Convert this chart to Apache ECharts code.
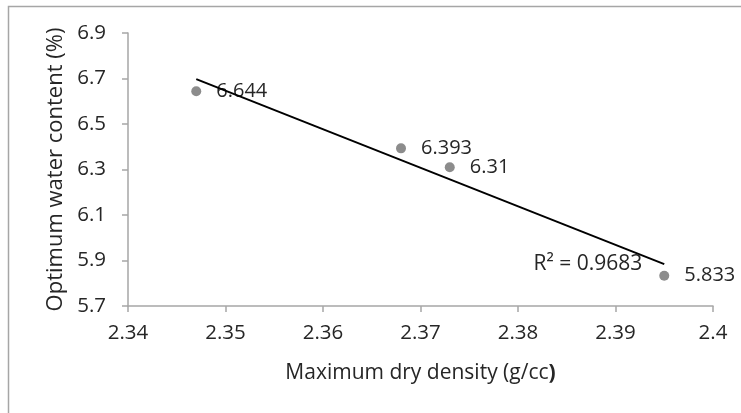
<!DOCTYPE html>
<html><head><meta charset="utf-8">
<script src="https://cdn.jsdelivr.net/npm/echarts@6/dist/echarts.min.js"></script>
<style>html,body{margin:0;padding:0;background:#fff}#c{width:741px;height:413px}</style>
</head><body><div id="c"></div>
<script>
const density = [2.347, 2.368, 2.373, 2.395];
const water = [6.644, 6.393, 6.31, 5.833];
const pointLabels = ['6.644', '6.393', '6.31', '5.833'];
const r2Text = 'R\u00b2 = 0.9683';
const xTicks = [2.34, 2.35, 2.36, 2.37, 2.38, 2.39, 2.4];
const yTicks = [5.7, 5.9, 6.1, 6.3, 6.5, 6.7, 6.9];

// least-squares trendline
const n = density.length;
const mx = density.reduce((a,b)=>a+b,0)/n, my = water.reduce((a,b)=>a+b,0)/n;
let sxy=0,sxx=0;
for(let i=0;i<n;i++){sxy+=(density[i]-mx)*(water[i]-my);sxx+=(density[i]-mx)**2;}
const slope=sxy/sxx, icpt=my-slope*mx;
const x0=Math.min(...density), x1=Math.max(...density);
const trend=[[x0,icpt+slope*x0],[x1,icpt+slope*x1]];

const font='"Open Sans", sans-serif';
const txt='#262626';
const chart=echarts.init(document.getElementById('c'),null,{renderer:'canvas'});
chart.setOption({
  animation:false,
  backgroundColor:'#fff',
  graphic:[{type:'rect',shape:{x:8.5,y:6.5,width:760,height:420},style:{fill:'none',stroke:'#a6a6a6',lineWidth:1.5},z:-1}],
  grid:{left:128,right:28,top:33,bottom:107},
  xAxis:{type:'value',min:xTicks[0],max:xTicks[xTicks.length-1],interval:0.01,
    name:'Maximum dry density (g/cc{b|)}',nameLocation:'middle',nameGap:57,
    nameTextStyle:{fontFamily:font,fontSize:21,color:txt,rich:{b:{fontFamily:font,fontSize:21,color:txt,fontWeight:'bold'}}},
    axisLine:{show:true,lineStyle:{color:'#a6a6a6',width:1.5}},
    axisTick:{show:true,length:6,lineStyle:{color:'#a6a6a6',width:1.5}},
    splitLine:{show:false},
    axisLabel:{fontFamily:font,fontSize:20.5,color:txt,margin:17,formatter:v=>String(+v.toFixed(2))}},
  yAxis:{type:'value',min:yTicks[0],max:yTicks[yTicks.length-1],interval:0.2,
    name:'Optimum water content (%)',nameLocation:'middle',nameGap:59,
    nameTextStyle:{fontFamily:font,fontSize:22,color:txt},
    axisLine:{show:true,lineStyle:{color:'#a6a6a6',width:1.5}},
    axisTick:{show:true,length:6,lineStyle:{color:'#a6a6a6',width:1.5}},
    splitLine:{show:false},
    axisLabel:{fontFamily:font,fontSize:20.5,color:txt,margin:22,formatter:v=>(+v).toFixed(1)}},
  series:[
    {type:'line',symbol:'none',lineStyle:{color:'#000',width:2},z:3,
     data:trend,
     markPoint:{symbol:'circle',symbolSize:0,silent:true,
       data:[{coord:trend[1],label:{show:true,position:'left',distance:22,
         fontFamily:font,fontSize:21,color:txt,formatter:r2Text}}]}},
    {type:'scatter',data:density.map((x,i)=>[x,water[i]]),symbolSize:10,
     itemStyle:{color:'#8c8c8c',opacity:1},z:2,
     label:{show:true,position:'right',distance:15,fontFamily:font,fontSize:20,color:txt,
       formatter:p=>pointLabels[p.dataIndex]}}
  ]
});
</script></body></html>
